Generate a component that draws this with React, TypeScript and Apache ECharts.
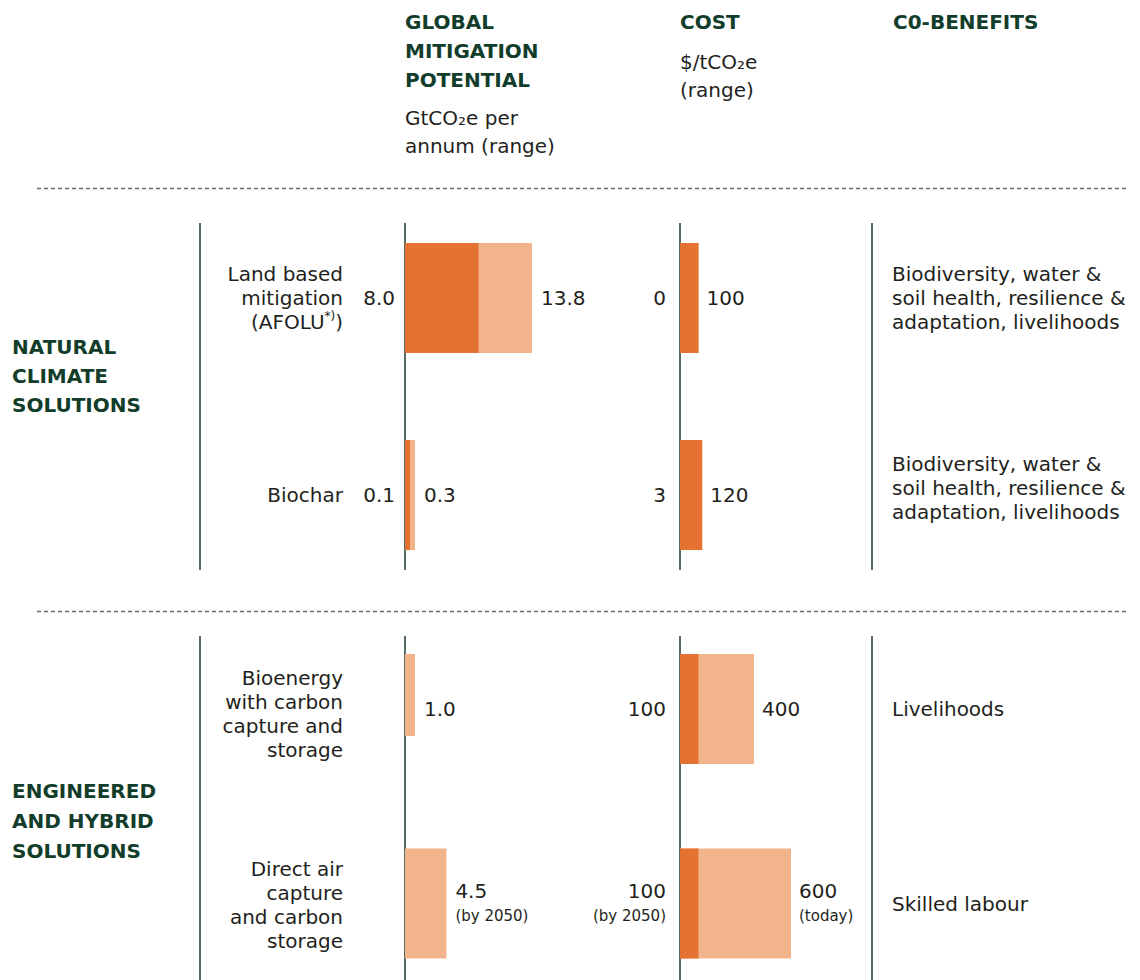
import React, { useEffect, useRef } from "react";
import * as echarts from "echarts";

// ---------- data ----------
const categories = [
  "Land based\nmitigation\n(AFOLU{sup|*)})",
  "Biochar",
  "Bioenergy\nwith carbon\ncapture and\nstorage",
  "Direct air\ncapture\nand carbon\nstorage",
];
const groupLabels = ["NATURAL\nCLIMATE\nSOLUTIONS", "ENGINEERED\nAND HYBRID\nSOLUTIONS"];

// Global mitigation potential, GtCO2e per annum (range)
const mitigationLow: (number | null)[] = [8.0, 0.1, null, null];
const mitigationHigh: number[] = [13.8, 0.3, 1.0, 4.5];
const mitigationLowLabels = ["8.0", "0.1", "", ""];
const mitigationHighLabels = ["13.8", "0.3", "1.0", "4.5"];
const mitigationHighNotes = ["", "", "", "(by 2050)"];

// Cost, $/tCO2e (range)
const costDark: number[] = [100, 120, 100, 100];
const costHigh: number[] = [100, 120, 400, 600];
const costLowLabels = ["0", "3", "100", "100"];
const costLowNotes = ["", "", "", "(by 2050)"];
const costHighLabels = ["100", "120", "400", "600"];
const costHighNotes = ["", "", "", "(today)"];

const coBenefits = [
  "Biodiversity, water &\nsoil health, resilience &\nadaptation, livelihoods",
  "Biodiversity, water &\nsoil health, resilience &\nadaptation, livelihoods",
  "Livelihoods",
  "Skilled labour",
];

const headers = {
  mitigation: "GLOBAL\nMITIGATION\nPOTENTIAL",
  mitigationUnit: "GtCO₂e per\nannum (range)",
  cost: "COST",
  costUnit: "$/tCO₂e\n(range)",
  co: "C0-BENEFITS",
};

// ---------- layout / style ----------
const ROW_CENTERS = [298, 495, 709, 903.5];
const BAR_H = 110;
const FONT = "'DejaVu Sans', 'Noto Sans', sans-serif";
const GREEN = "#123d2b";
const TEXT = "#231f20";
const DARK = "#e47331";
const LIGHT = "#f2b48b";
const LINE = "#1f3d30";

const richValue = {
  v: { fontSize: 20, fontFamily: FONT, color: TEXT, lineHeight: 25 },
  n: { fontSize: 15, fontFamily: FONT, color: TEXT, lineHeight: 25 },
};
const fmt = (v: string, n: string) => (n ? `{v|${v}}\n{n|${n}}` : `{v|${v}}`);

export default function App() {
  const ref = useRef<HTMLDivElement>(null);

  useEffect(() => {
    document.body.style.margin = "0";
    const chart = echarts.init(ref.current!, null, { renderer: "svg" });

    const grids: any[] = [];
    const xAxes: any[] = [];
    const yAxes: any[] = [];
    const series: any[] = [];

    const baseY = {
      type: "category",
      inverse: true,
      axisLine: { show: false },
      axisTick: { show: false },
      splitLine: { show: false },
    };
    const catAxisLabel = {
      show: true,
      interval: 0,
      margin: 62,
      fontSize: 20,
      lineHeight: 24,
      color: TEXT,
      fontFamily: FONT,
      align: "right",
      rich: {
        sup: { fontSize: 12, lineHeight: 14, verticalAlign: "top", color: TEXT, fontFamily: FONT },
      },
    };
    const coAxisLabel = (lift: boolean) => ({
      show: true,
      interval: 0,
      margin: 27,
      fontSize: 20,
      lineHeight: 24,
      color: TEXT,
      fontFamily: FONT,
      align: "left",
      formatter: (v: string) => (lift ? `${v}\n{gap| }` : v),
      rich: { gap: { fontSize: 1, lineHeight: 14 } },
    });
    const catPadding = [
      [0, 0, 0, 0],
      [0, 0, 0, 0],
      [10, 0, 0, 0],
      [2, 0, 0, 0],
    ];

    const rightLabel = (labels: string[], notes: string[], r: number, distance: number) => ({
      show: true,
      position: "right",
      distance,
      align: "left",
      formatter: () => fmt(labels[r], notes[r]),
      rich: richValue,
    });
    const leftLabel = (labels: string[], notes: string[], r: number, distance: number) => ({
      show: true,
      position: "left",
      distance,
      align: "right",
      formatter: () => fmt(labels[r], notes[r]),
      rich: richValue,
    });

    const addGrid = (left: number, width: number, top: number, height: number, max: number) => {
      const i = grids.length;
      grids.push({ left, width, top, height });
      xAxes.push({ type: "value", gridIndex: i, min: 0, max, show: false });
      return i;
    };

    // mitigation rows
    ROW_CENTERS.forEach((c, r) => {
      const g = addGrid(405, 184, c - BAR_H / 2, BAR_H, 20);
      yAxes.push({
        ...baseY,
        gridIndex: g,
        data: [{ value: categories[r], textStyle: { padding: catPadding[r] } }],
        axisLabel: catAxisLabel,
      });
      if (r !== 2) {
        series.push({
          type: "bar",
          xAxisIndex: g,
          yAxisIndex: g,
          data: [mitigationHigh[r]],
          barWidth: BAR_H,
          barGap: "-100%",
          barMinHeight: 10,
          itemStyle: { color: LIGHT },
          label: rightLabel(mitigationHighLabels, mitigationHighNotes, r, 9),
          silent: true,
        });
        if (mitigationLow[r] !== null) {
          series.push({
            type: "bar",
            xAxisIndex: g,
            yAxisIndex: g,
            data: [mitigationLow[r]],
            barWidth: BAR_H,
            barGap: "-100%",
            barMinHeight: 5,
            itemStyle: { color: DARK },
            label: leftLabel(mitigationLowLabels, ["", "", "", ""], r, 10),
            silent: true,
          });
        }
      }
    });

    // cost rows
    ROW_CENTERS.forEach((c, r) => {
      const g = addGrid(680, 185, c - BAR_H / 2, BAR_H, 1000);
      yAxes.push({
        ...baseY,
        gridIndex: g,
        position: "right",
        data: [coBenefits[r]],
        axisLabel: coAxisLabel(r === 1),
      });
      series.push({
        type: "bar",
        xAxisIndex: g,
        yAxisIndex: g,
        data: [costHigh[r]],
        barWidth: BAR_H,
        barGap: "-100%",
        itemStyle: { color: LIGHT },
        label: rightLabel(costHighLabels, costHighNotes, r, 8),
        silent: true,
      });
      series.push({
        type: "bar",
        xAxisIndex: g,
        yAxisIndex: g,
        data: [costDark[r]],
        barWidth: BAR_H,
        barGap: "-100%",
        itemStyle: { color: DARK },
        label: leftLabel(costLowLabels, costLowNotes, r, 14),
        silent: true,
      });
    });

    // BECCS mitigation: shorter, top-aligned bar
    {
      const g = addGrid(405, 184, ROW_CENTERS[2] - BAR_H / 2, 82, 20);
      yAxes.push({ ...baseY, gridIndex: g, data: ["BECCS"], axisLabel: { show: false } });
      series.push({
        type: "bar",
        xAxisIndex: g,
        yAxisIndex: g,
        data: [mitigationHigh[2]],
        barWidth: 82,
        barMinHeight: 10,
        itemStyle: { color: LIGHT },
        label: { ...rightLabel(mitigationHighLabels, mitigationHighNotes, 2, 9), offset: [0, 14] },
        silent: true,
      });
    }

    const vLines: any[] = [];
    [200, 405, 680, 872].forEach((x) => {
      [
        [223, 570],
        [636, 980],
      ].forEach(([y1, y2]) => {
        vLines.push({
          type: "line",
          shape: { x1: x, y1, x2: x, y2 },
          style: { stroke: LINE, lineWidth: 1.5 },
          silent: true,
        });
      });
    });
    const dashed = [188.5, 611.5].map((y) => ({
      type: "line",
      shape: { x1: 37, y1: y, x2: 1128, y2: y },
      style: { stroke: "#5e716a", lineWidth: 1.5, lineDash: [4, 3] },
      silent: true,
    }));

    const headText = (text: string, x: number, y: number, lh: number) => ({
      type: "text",
      x,
      y,
      silent: true,
      style: {
        text,
        fill: GREEN,
        fontFamily: FONT,
        fontSize: 20,
        fontWeight: "bold",
        lineHeight: lh,
        verticalAlign: "top",
        align: "left",
      },
    });
    const subText = (text: string, x: number, y: number) => ({
      type: "text",
      x,
      y,
      silent: true,
      style: {
        text,
        fill: TEXT,
        fontFamily: FONT,
        fontSize: 20,
        lineHeight: 28,
        verticalAlign: "top",
        align: "left",
      },
    });

    chart.setOption({
      animation: false,
      grid: grids,
      xAxis: xAxes,
      yAxis: yAxes,
      series,
      graphic: [
        ...vLines,
        ...dashed,
        headText(headers.mitigation, 405, 7, 29),
        subText(headers.mitigationUnit, 405, 104),
        headText(headers.cost, 680, 7, 29),
        subText(headers.costUnit, 680, 48),
        headText(headers.co, 893, 7, 29),
        headText(groupLabels[0], 12, 332.5, 29),
        headText(groupLabels[1], 12, 775.5, 30),
      ],
    });

    return () => chart.dispose();
  }, []);

  return <div ref={ref} style={{ width: 1140, height: 980 }} />;
}
